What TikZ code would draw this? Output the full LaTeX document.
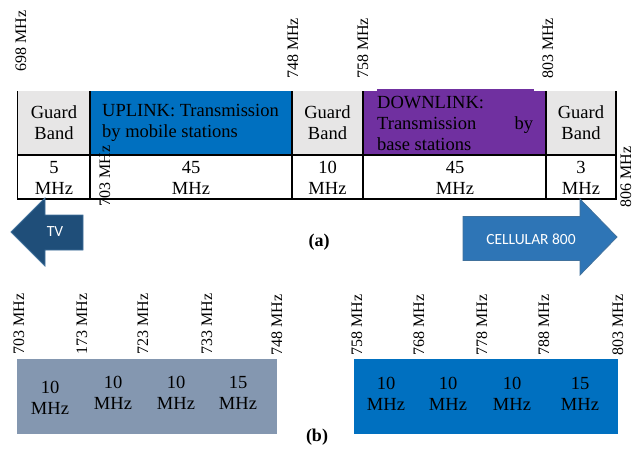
\documentclass[tikz,border=0pt]{standalone}
\usepackage{fontspec}
\setmainfont{Liberation Serif}
\newfontfamily\calib{Carlito}
\definecolor{gbgray}{HTML}{E7E6E6}
\definecolor{upblue}{HTML}{0070C0}
\definecolor{dnpurple}{HTML}{7030A0}
\definecolor{slate}{HTML}{8497B0}
\definecolor{tvblue}{HTML}{1F4E79}
\definecolor{cellblue}{HTML}{2E75B6}
\definecolor{arrowedge}{HTML}{41719C}
\begin{document}
\begin{tikzpicture}[x=1pt,y=-1pt,
  cell/.style={draw=none,inner sep=0pt,anchor=north west},
  txt/.style={inner sep=0pt,align=center,font=\fontsize{18.5}{21}\selectfont},
  freq/.style={inner sep=0pt,rotate=90,font=\fontsize{16}{18}\selectfont},
  grid/.style={line width=1.8pt,black},
  arrowtxt/.style={inner sep=0pt,text=white,font=\calib\fontsize{15.5}{18}\selectfont},
  arrowshape/.style={draw=arrowedge,line width=0.8pt},
  caplab/.style={inner sep=0pt,font=\bfseries\fontsize{18}{20}\selectfont}]
\useasboundingbox (0,0) rectangle (635,456);
% ---------- (a) table ----------
\node[cell,fill=gbgray,minimum width=72pt,minimum height=64pt] (c1) at (18,91) {};
\node[cell,fill=upblue,minimum width=202pt,minimum height=64pt] (c2) at (90,91) {};
\node[cell,fill=gbgray,minimum width=71pt,minimum height=64pt] (c3) at (292,91) {};
\node[cell,fill=dnpurple,minimum width=183pt,minimum height=64pt] (c4) at (363,91) {};
\node[cell,fill=dnpurple,minimum width=157pt,minimum height=3pt] (c4b) at (377,89) {};
\node[cell,fill=gbgray,minimum width=70pt,minimum height=64pt] (c5) at (546,91) {};
\coordinate (tl) at (17.5,91);
\coordinate (bl) at (17.5,199);
\coordinate (ml) at (17.5,155);
\coordinate (mr) at (616,155);
\coordinate (br) at (616,199);
\coordinate (tr) at (616,91);
\draw[grid] (tl) -- (bl) -- (br) -- (tr);
\draw[grid] (ml) -- (mr);
\foreach \xx in {90,292,363,546}{\draw[grid] (\xx,91) -- (\xx,199);}
\node[txt] (g1) at (54,123) {Guard\\Band};
\node[txt,anchor=west,align=left] (up) at (102,123) {UPLINK: Transmission\\by mobile stations};
\node[txt] (g2) at (327.5,123) {Guard\\Band};
\node[txt,anchor=west,align=left] (dn) at (377,123.5) {DOWNLINK:\\\hbox to 156pt{Transmission\hfill by}\\base stations};
\node[txt] (g3) at (581,123) {Guard\\Band};
\node[txt] (b1) at (54,177.5) {5\\MHz};
\node[txt] (b2) at (191,177.5) {45\\MHz};
\node[txt] (b3) at (327.5,177.5) {10\\MHz};
\node[txt] (b4) at (455,177.5) {45\\MHz};
\node[txt] (b5) at (581,177.5) {3\\MHz};
% frequency labels (a)
\node[freq] (f698) at (21,41) {698 MHz};
\node[freq] (f748) at (293,48.5) {748 MHz};
\node[freq] (f758) at (363,48.5) {758 MHz};
\node[freq] (f803) at (548,48.5) {803 MHz};
\node[freq] (f703) at (105,176) {703 MHz};
\node[freq] (f806) at (626,177) {806 MHz};
% arrows
\fill[tvblue] (11,232) -- (45,198) -- (45,215) -- (83,215) -- (83,250) -- (45,250) -- (45,266) -- cycle;
\draw[arrowshape] (11,232) -- (45,198) -- (45,215) -- (83,215) -- (83,250) -- (45,250) -- (45,266) -- cycle;
\node[arrowtxt] (tv) at (55,232) {TV};
\fill[cellblue] (463,216.5) -- (580,216.5) -- (580,199) -- (617,237) -- (580,275) -- (580,260.5) -- (463,260.5) -- cycle;
\draw[arrowshape] (463,216.5) -- (580,216.5) -- (580,199) -- (617,237) -- (580,275) -- (580,260.5) -- (463,260.5) -- cycle;
\node[arrowtxt] (cell) at (531,239) {CELLULAR 800};
\node[caplab] (capa) at (319,242) {(a)};
% ---------- (b) ----------
\node[cell,fill=slate,minimum width=260pt,minimum height=75pt] (lbox) at (17,359) {};
\node[cell,fill=upblue,minimum width=264pt,minimum height=75pt] (rbox) at (354,359) {};
\node[freq] (l703) at (19,324) {703 MHz};
\node[freq] (l173) at (82,324) {173 MHz};
\node[freq] (l723) at (143,324) {723 MHz};
\node[freq] (l733) at (207,324) {733 MHz};
\node[freq] (l748) at (277,325) {748 MHz};
\node[freq] (r758) at (357,325) {758 MHz};
\node[freq] (r768) at (419,325) {768 MHz};
\node[freq] (r778) at (482,325) {778 MHz};
\node[freq] (r788) at (544,325) {788 MHz};
\node[freq] (r803) at (618,325) {803 MHz};
\node[txt] (lt1) at (50,398) {10\\MHz};
\node[txt] (lt2) at (113,392.5) {10\\MHz};
\node[txt] (lt3) at (176,392.5) {10\\MHz};
\node[txt] (lt4) at (238,392.5) {15\\MHz};
\node[txt] (rt1) at (386,393.5) {10\\MHz};
\node[txt] (rt2) at (448,393.5) {10\\MHz};
\node[txt] (rt3) at (512,393.5) {10\\MHz};
\node[txt] (rt4) at (580,393.5) {15\\MHz};
\node[caplab] (capb) at (317,437) {(b)};
\end{tikzpicture}
\end{document}
